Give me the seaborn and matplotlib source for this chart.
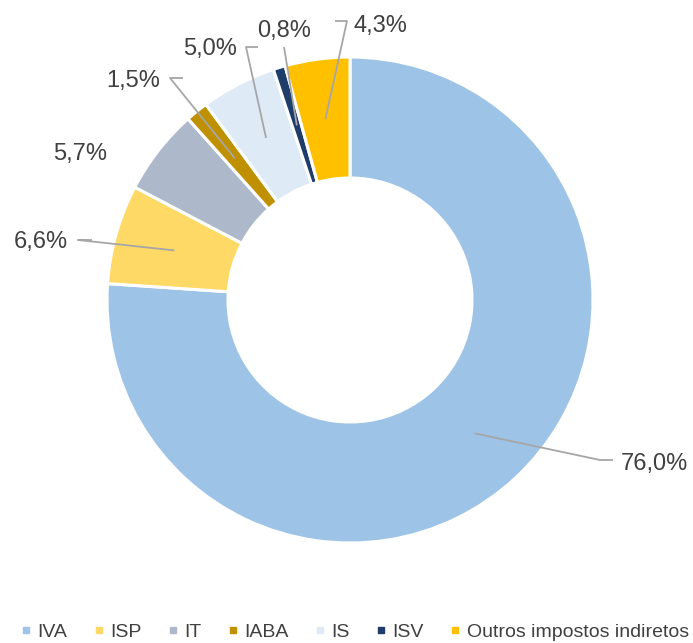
import numpy as np
import seaborn as sns
import matplotlib.pyplot as plt
from matplotlib.lines import Line2D

# ==================== DATA ====================
categories = ["IVA", "ISP", "IT", "IABA", "IS", "ISV", "Outros impostos indiretos"]
values = [76.0, 6.6, 5.7, 1.5, 5.0, 0.8, 4.3]
labels = ["76,0%", "6,6%", "5,7%", "1,5%", "5,0%", "0,8%", "4,3%"]
colors = ["#9DC3E6", "#FFD966", "#ADB9CA", "#BF9000", "#DEEBF7", "#1F3D6B", "#FFC000"]

# ==================== LAYOUT (pixels) ====================
W, H = 693, 643
CX, CY = 350, 300
R_OUT, R_IN = 243, 122

# label text position (x, baseline y), alignment, leader elbow points (pixels)
label_pos = {
    "IVA": ((621, 470), "left", [(600, 460), (613, 460)]),
    "ISP": ((68, 248), "right", [(78, 240), (92, 240)]),
    "IT": ((107, 160), "right", None),
    "IABA": ((160, 87), "right", [(170, 78), (183, 78)]),
    "IS": ((237, 55), "right", [(246, 47), (258, 47)]),
    "ISV": ((284, 37), "center", [(284, 47)]),
    "Outros impostos indiretos": ((354, 32), "left", [(347, 21), (335, 21)]),
}

sns.set_theme(style="white")
plt.rcParams["font.family"] = ["Liberation Sans", "DejaVu Sans"]

fig = plt.figure(figsize=(W / 100, H / 100), dpi=100)
ax = fig.add_axes([0, 0, 1, 1])

wedges, _ = ax.pie(values, colors=colors, startangle=90, counterclock=False,
                   center=(CX, H - CY), radius=R_OUT,
                   wedgeprops=dict(width=R_OUT - R_IN, edgecolor="white", linewidth=2.2))
ax.set_xlim(0, W)
ax.set_ylim(0, H)
ax.set_aspect("equal")
ax.axis("off")

line_col = "#A6A6A6"
text_col = "#404040"
r_mid = (R_OUT + R_IN) / 2
for w, cat, lab in zip(wedges, categories, labels):
    (tx, ty), ha, elbow = label_pos[cat]
    ax.text(tx, H - ty, lab, ha=ha, va="baseline", fontsize=17, color=text_col)
    if elbow:
        ang = np.deg2rad((w.theta1 + w.theta2) / 2)
        ax_x = CX + r_mid * np.cos(ang)
        ax_y = (H - CY) + r_mid * np.sin(ang)
        xs = [ax_x] + [p[0] for p in elbow]
        ys = [ax_y] + [H - p[1] for p in elbow]
        ax.plot(xs, ys, color=line_col, lw=1.3, solid_capstyle="butt")

# legend along the bottom
handles = [Line2D([], [], marker="s", linestyle="none", markersize=5,
                  markerfacecolor=c, markeredgecolor=c) for c in colors]
fig.legend(handles, categories, loc="center", bbox_to_anchor=(355 / W, 1 - 632 / H),
           ncol=7, frameon=False, fontsize=14, handlelength=0.5, handletextpad=0.35,
           columnspacing=1.35, labelcolor=text_col, borderaxespad=0, borderpad=0)

fig.savefig("out.png", dpi=100)
